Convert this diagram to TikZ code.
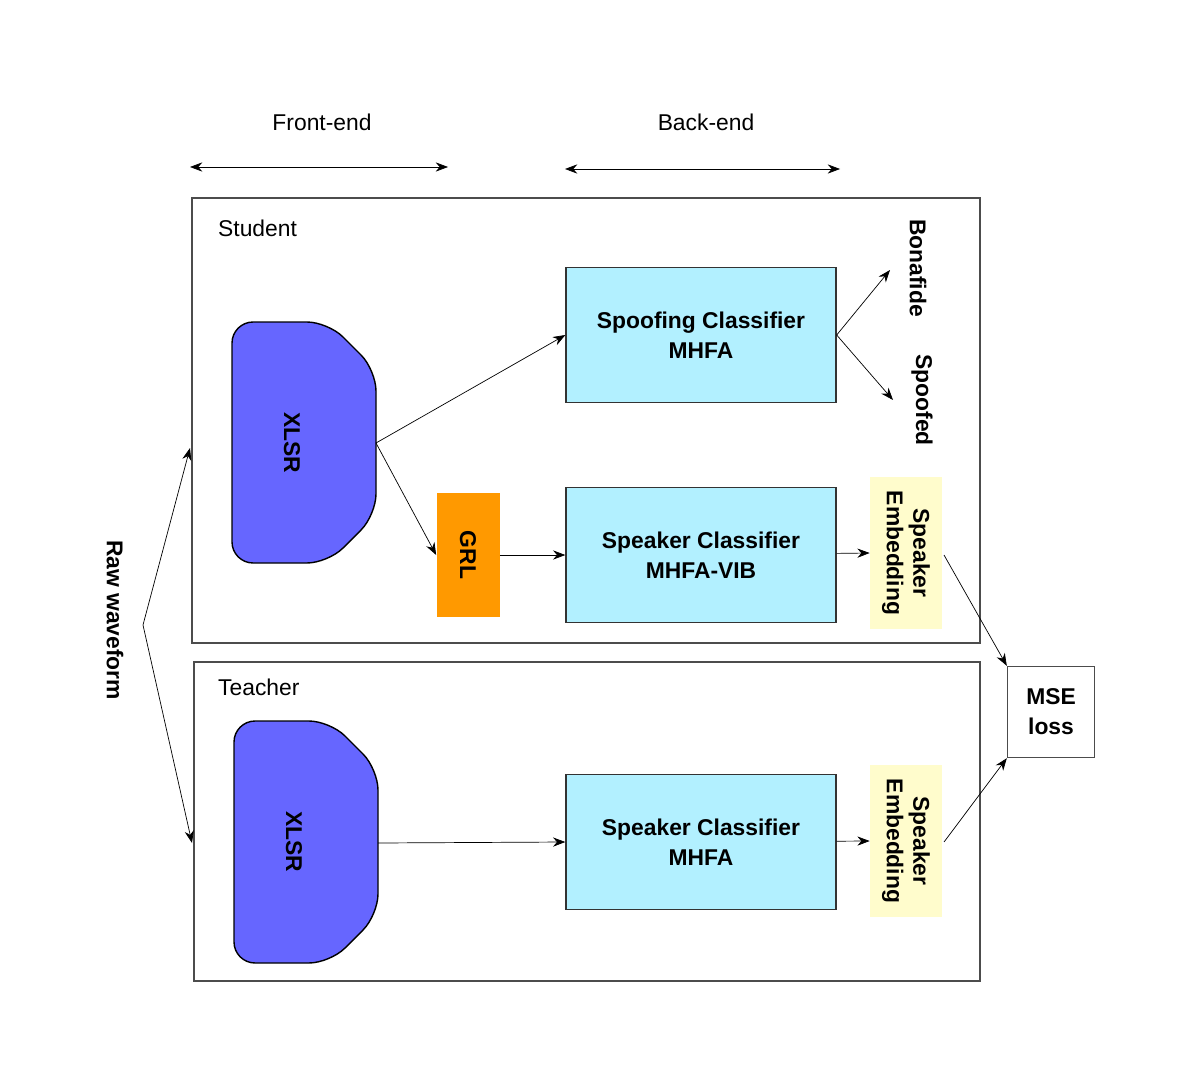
\documentclass[tikz,border=0pt]{standalone}
\usepackage{fontspec}
\setmainfont{Liberation Sans}
\usetikzlibrary{arrows.meta}
\tikzstyle{blk} = [draw=black!80, fill=blue!20!cyan!30, thick, minimum width=5.4cm, minimum height=2.7cm, align=center, font=\bfseries\fontsize{13}{17}\selectfont]
\tikzstyle{emb} = [fill=yellow!20, minimum width=1.44cm, minimum height=3.06cm, font=\bfseries\fontsize{13}{15}\selectfont]
\tikzstyle{lbl} = [font=\fontsize{13}{15}\selectfont]
\tikzstyle{arr} = [-{Stealth[length=7pt]}, thin]
\begin{document}
\begin{tikzpicture}[x=0.02cm, y=-0.02cm]
\useasboundingbox (0,0) rectangle (1200,1091);

% Define nodes
\node[lbl] (fe) at (322,122) {Front-end};
\node[lbl] (be) at (706,122) {Back-end};
\coordinate (fel) at (190,167); \coordinate (fer) at (448,167);
\coordinate (bel) at (565,169); \coordinate (ber) at (840,169);

\draw[black!70, thick] (192,198) rectangle (980,643);
\draw[black!70, thick] (194,662) rectangle (980,981);
\node[lbl, anchor=west] (st) at (212,228) {Student};
\node[lbl, anchor=west] (te) at (212,687) {Teacher};

\draw[fill=blue!60!white, draw=black, thick, rounded corners=12pt] (232,322) -- (328,322) -- (376,370) -- (376,515) -- (328,563) -- (232,563) -- cycle;
\node[font=\bfseries\fontsize{13}{15}\selectfont, rotate=-90] (xs) at (292,443) {XLSR};
\draw[fill=blue!60!white, draw=black, thick, rounded corners=12pt] (234,721) -- (330,721) -- (378,769) -- (378,915) -- (330,963) -- (234,963) -- cycle;
\node[font=\bfseries\fontsize{13}{15}\selectfont, rotate=-90] (xt) at (294,842) {XLSR};
\coordinate (xsr) at (376,443);
\coordinate (xtr) at (378,843);

\node[blk] (sp) at (701,335) {Spoofing Classifier\\MHFA};
\node[blk] (sk) at (701,555) {Speaker Classifier\\MHFA-VIB};
\node[blk] (tk) at (701,842) {Speaker Classifier\\MHFA};
\node[fill=orange!80!yellow, minimum width=1.26cm, minimum height=2.48cm] (grl) at (468,555) {};
\node[font=\bfseries\fontsize{13}{15}\selectfont, rotate=-90] at (grl) {GRL};

\node[emb] (es) at (906,553) {};
\node[font=\bfseries\fontsize{13}{15}\selectfont, rotate=-90, align=center] at (es) {Speaker\\Embedding};
\node[emb] (et) at (906,841) {};
\node[font=\bfseries\fontsize{13}{15}\selectfont, rotate=-90, align=center] at (et) {Speaker\\Embedding};

\node[draw=black!70, thick, minimum width=1.74cm, minimum height=1.82cm, align=center, font=\bfseries\fontsize{13}{17}\selectfont] (mse) at (1051,712) {MSE\\loss};

\node[font=\bfseries\fontsize{13}{15}\selectfont, rotate=-90] (bf) at (918,268) {Bonafide};
\node[font=\bfseries\fontsize{13}{15}\selectfont, rotate=-90] (sf) at (922,400) {Spoofed};
\coordinate (bfa) at (890,270); \coordinate (sfa) at (893,400);

\node[font=\bfseries\fontsize{13}{15}\selectfont, rotate=-90] (raw) at (115,620) {Raw waveform};
\coordinate (rw) at (143,625);
\coordinate (rws) at (190,448); \coordinate (rwt) at (192,843);

% Edges
\draw[{Stealth[length=7pt]}-{Stealth[length=7pt]}] (fel) -- (fer);
\draw[{Stealth[length=7pt]}-{Stealth[length=7pt]}] (bel) -- (ber);
\draw[arr] (xsr) -- (sp.west);
\draw[arr] (xsr) -- (grl.west);
\draw[arr] (grl) -- (sk.west);
\draw[arr] (sk) -- (es.west);
\draw[arr] (xtr) -- (tk.west);
\draw[arr] (tk) -- (et.west);
\draw[arr] (sp.east) -- (bfa);
\draw[arr] (sp.east) -- (sfa);
\draw[arr] (944,555) -- (mse.north west);
\draw[arr] (944,842) -- (mse.south west);
\draw[arr] (rw) -- (rws);
\draw[arr] (rw) -- (rwt);
\end{tikzpicture}
\end{document}
